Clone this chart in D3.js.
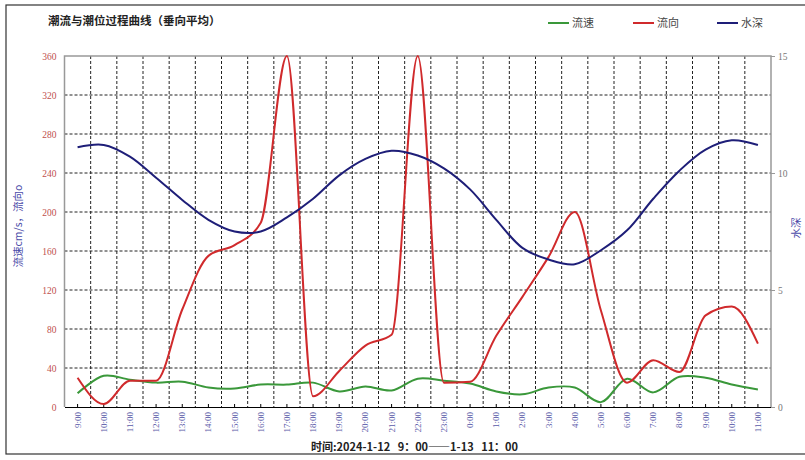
<!DOCTYPE html>
<html lang="zh">
<head>
<meta charset="UTF-8">
<title>潮流与潮位过程曲线</title>
<style>
    body { margin: 0; background: #fff; }
    svg { display: block; }
    .num { font-family: "Liberation Serif", "DejaVu Serif", serif; }
    .cjk { font-family: "Noto Sans CJK SC", sans-serif; }
</style>
</head>
<body>
<svg id="chart"></svg>
<script src="https://cdn.jsdelivr.net/npm/d3@7"></script>
<script>
    // hourly categories 2024-1-12 9:00 ... 1-13 11:00
    var hours = ["9:00","10:00","11:00","12:00","13:00","14:00","15:00","16:00","17:00",
        "18:00","19:00","20:00","21:00","22:00","23:00","0:00","1:00","2:00","3:00",
        "4:00","5:00","6:00","7:00","8:00","9:00","10:00","11:00"];

    // 流速 (cm/s)
    var speed = [14,32,28,25,26,20,19,23,23,25,16,21,17,29,27,24,16,13,20,20,5,29,15,31,30,23,18];
    // 流向 (deg)
    var direction = [30,3,27,27,100,155,166,189,360,11,37,63,74,360,25,26,73,113,154,200,99,25,48,36,94,103,65];
    // 水深 (m)
    var depth = [11.1,11.2,10.7,9.8,8.85,8.0,7.5,7.5,8.1,8.9,9.9,10.6,10.95,10.75,10.2,9.3,
        8.0,6.8,6.3,6.1,6.7,7.55,8.9,10.1,11.0,11.4,11.2];

    var leftTicks = [0,40,80,120,160,200,240,280,320,360];
    var rightTicks = [0,5,10,15];

    var series = [
        {name: "流速", values: speed, color: "#3a983a", curve: d3.curveCatmullRom.alpha(0.5)},
        {name: "流向", values: direction, color: "#d02a2c", curve: d3.curveMonotoneX},
        {name: "水深", values: depth, color: "#1e1e78", right: true, curve: d3.curveCatmullRom.alpha(0.5)}
    ];

    (function () {
        var W = 805, H = 460;
        var left = 64.5, right = 771, top = 56, bottom = 407;

        var svg = d3.select("#chart").attr("width", W).attr("height", H);

        // outer frame
        svg.append("rect")
            .attr("x", 6).attr("y", 5).attr("width", 820).attr("height", 449)
            .attr("fill", "none").attr("stroke", "#333").attr("stroke-width", 1.2);

        var x = d3.scaleBand().domain(d3.range(hours.length)).range([left, right]);
        var yL = d3.scaleLinear().domain([0, 360]).range([bottom, top]);
        var yR = d3.scaleLinear().domain([0, 15]).range([bottom, top]);
        var cx = function (i) { return x(i) + x.bandwidth() / 2; };

        var g = svg.append("g");

        // horizontal grid
        g.selectAll("line.hg").data(leftTicks.slice(1, -1)).enter().append("line")
            .attr("x1", left).attr("x2", right)
            .attr("y1", function (d) { return yL(d); })
            .attr("y2", function (d) { return yL(d); })
            .attr("stroke", "#222").attr("stroke-width", 1)
            .attr("stroke-dasharray", "3,2");

        // vertical grid on category boundaries
        g.selectAll("line.vg").data(d3.range(1, hours.length)).enter().append("line")
            .attr("x1", function (d) { return x(d); })
            .attr("x2", function (d) { return x(d); })
            .attr("y1", top).attr("y2", bottom)
            .attr("stroke", "#222").attr("stroke-width", 1)
            .attr("stroke-dasharray", "3,2");

        // plot border
        g.append("path")
            .attr("d", "M" + left + "," + bottom + "V" + top + "H" + right + "V" + bottom)
            .attr("fill", "none").attr("stroke", "#999").attr("stroke-width", 1.5);

        // x axis
        var xAxis = d3.axisBottom(x).tickSize(0).tickFormat(function (i) { return hours[i]; });
        var xa = svg.append("g").attr("transform", "translate(0," + bottom + ")").call(xAxis);
        xa.select(".domain").attr("stroke", "#000").attr("stroke-width", 1.2);
        xa.selectAll("text")
            .attr("class", "num")
            .attr("font-size", 9)
            .attr("fill", "#5a5aa8")
            .attr("transform", "rotate(-90)")
            .attr("text-anchor", "end")
            .attr("x", -5).attr("y", 0).attr("dy", "0.33em");
        // small centre ticks
        xa.selectAll(".tick").append("line")
            .attr("y1", 0).attr("y2", -3).attr("stroke", "#000");

        // left axis
        var la = svg.append("g").attr("transform", "translate(" + left + ",0)")
            .call(d3.axisLeft(yL).tickValues(leftTicks).tickSize(0).tickPadding(8));
        la.select(".domain").remove();
        la.selectAll("text").attr("class", "num").attr("font-size", 9.5).attr("fill", "#c0504d");

        // right axis
        var ra = svg.append("g").attr("transform", "translate(" + right + ",0)")
            .call(d3.axisRight(yR).tickValues(rightTicks).tickSize(4).tickPadding(3));
        ra.select(".domain").remove();
        ra.selectAll("line").attr("stroke", "#999");
        ra.selectAll("text").attr("class", "num").attr("font-size", 9.5).attr("fill", "#777");

        // lines
        series.forEach(function (s) {
            var ys = s.right ? yR : yL;
            var line = d3.line()
                .x(function (d, i) { return cx(i); })
                .y(function (d) { return ys(d); })
                .curve(s.curve);
            svg.append("path")
                .datum(s.values)
                .attr("d", line)
                .attr("fill", "none")
                .attr("stroke", s.color)
                .attr("stroke-width", 2)
                .attr("stroke-linejoin", "round");
        });

        // title
        svg.append("text")
            .attr("class", "cjk")
            .attr("x", 48).attr("y", 25)
            .attr("font-size", 11.5).attr("font-weight", "bold").attr("fill", "#222")
            .text("潮流与潮位过程曲线（垂向平均）");

        // legend
        var lx = [548, 633, 717];
        series.forEach(function (s, i) {
            svg.append("line")
                .attr("x1", lx[i]).attr("x2", lx[i] + 21)
                .attr("y1", 23).attr("y2", 23)
                .attr("stroke", s.color).attr("stroke-width", 2);
            svg.append("text")
                .attr("class", "cjk")
                .attr("x", lx[i] + 24).attr("y", 27)
                .attr("font-size", 11).attr("fill", "#444")
                .text(s.name);
        });

        // axis titles
        svg.append("text")
            .attr("class", "cjk")
            .attr("transform", "translate(22,226) rotate(-90)")
            .attr("text-anchor", "middle")
            .attr("font-size", 10.5).attr("fill", "#4a4aa8")
            .text("流速cm/s，流向o");

        svg.append("text")
            .attr("class", "cjk")
            .attr("transform", "translate(800,228) rotate(-90)")
            .attr("text-anchor", "middle")
            .attr("font-size", 10.5).attr("fill", "#4a4aa8")
            .text("水深");

        svg.append("text")
            .attr("class", "cjk")
            .attr("x", 311).attr("y", 451)
            .attr("font-size", 11).attr("font-weight", "bold").attr("fill", "#222")
            .text("时间:2024-1-12\u00a0\u00a0\u00a09：00——1-13\u00a0\u00a0\u00a011：00");
    })();
</script>
</body>
</html>
